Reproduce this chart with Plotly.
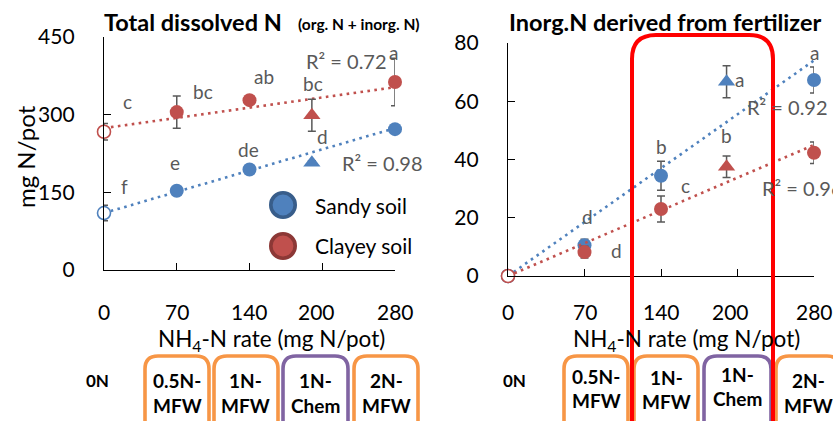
import plotly.graph_objects as go

W, H = 833, 421

# ---------------- data ----------------
mfw_rates = [70, 140, 280]          # MFW treatments
zero_rate = [0]                     # 0N control
chem_rate = [200]                   # 1N-Chem
trend_x = [0, 280]

# Left panel: total dissolved N (mg N/pot)
tdn_sandy_0, tdn_sandy_0_err = [110], [15]
tdn_sandy, tdn_sandy_err = [153, 194, 272], [3, 3, 4]
tdn_sandy_chem, tdn_sandy_chem_err = [207], [4]
tdn_clay_0, tdn_clay_0_err = [267], [16]
tdn_clay, tdn_clay_err = [305, 328, 363], [31, 5, 46]
tdn_clay_chem, tdn_clay_chem_err = [299], [31]
tdn_trend_sandy = [110, 274]
tdn_trend_clay = [274, 353]

# Right panel: inorganic N derived from fertilizer (mg N/pot)
fert_sandy_0, fert_sandy_0_err = [0], [0]
fert_sandy, fert_sandy_err = [10.6, 34.4, 67.3], [2, 5, 4.5]
fert_sandy_chem, fert_sandy_chem_err = [66.7], [5.5]
fert_clay_0, fert_clay_0_err = [0], [0]
fert_clay, fert_clay_err = [8.2, 23.0, 42.3], [2, 4.5, 3.7]
fert_clay_chem, fert_clay_chem_err = [37.5], [3.7]
fert_trend_sandy = [0, 74]
fert_trend_clay = [0, 45]

x_tick_pos = [0, 70, 140, 204, 280]
x_tick_text = ["0", "70", "140", "200", "280"]
left_y_ticks = [0, 150, 300, 450]
right_y_ticks = [0, 20, 40, 60, 80]

# letters of significance
left_letters_x = [23, 95, 154, 201, 279, 302, 210, 139, 68, 20]
left_letters_y = [326, 344, 373, 361, 421, 288, 257, 232, 207, 162]
left_letters = ["c", "bc", "ab", "bc", "a", "c", "d", "de", "e", "f"]
right_letters_x = [280, 212, 293, 140, 200, 162, 73, 99]
right_letters_y = [76.9, 67.3, 52.5, 44.6, 48.4, 31.2, 20.3, 8.9]
right_letters = ["a", "a", "b", "b", "b", "c", "d", "d"]
r2_left = ["R² = 0.72", "R² = 0.98"]
r2_right = ["R² = 0.92", "R² = 0.96"]

treat_0 = "0N"
box_line1 = ["0.5N-", "1N-", "1N-", "2N-"]
box_line2 = ["MFW", "MFW", "Chem", "MFW"]

# ---------------- style ----------------
BLUE, RED = "#4F81BD", "#C0504D"
BLUE_D, RED_D = "#385D8A", "#8C3836"
GRAY = "#595959"
ORANGE, PURPLE = "#F79646", "#8064A2"
FONT = "Lato"


def px(x):
    return x / W


def py(y):
    return 1 - y / H


fig = go.Figure()


def err(arr):
    return dict(type="data", array=arr, color=GRAY, thickness=1.5, width=4)


def add_series(xa, ya, color, t_y, z_y, z_e, m_y, m_e, c_y, c_e):
    fig.add_trace(go.Scatter(x=trend_x, y=t_y, mode="lines", xaxis=xa, yaxis=ya,
                             line=dict(color=color, width=2.6, dash="2.6px,4.4px"),
                             hoverinfo="skip", showlegend=False))
    fig.add_trace(go.Scatter(x=zero_rate, y=z_y, mode="markers", xaxis=xa, yaxis=ya,
                             marker=dict(symbol="circle", size=13, color="white",
                                         line=dict(color=color, width=1.6)),
                             error_y=err(z_e), cliponaxis=False, showlegend=False))
    fig.add_trace(go.Scatter(x=mfw_rates, y=m_y, mode="markers", xaxis=xa, yaxis=ya,
                             marker=dict(symbol="circle", size=14, color=color,
                                         line=dict(width=0)),
                             error_y=err(m_e), cliponaxis=False, showlegend=False))
    fig.add_trace(go.Scatter(x=chem_rate, y=c_y, mode="markers", xaxis=xa, yaxis=ya,
                             marker=dict(symbol="triangle-up", size=15, color=color,
                                         line=dict(width=0)),
                             error_y=err(c_e), cliponaxis=False, showlegend=False))


add_series("x", "y", BLUE, tdn_trend_sandy, tdn_sandy_0, tdn_sandy_0_err,
           tdn_sandy, tdn_sandy_err, tdn_sandy_chem, tdn_sandy_chem_err)
add_series("x", "y", RED, tdn_trend_clay, tdn_clay_0, tdn_clay_0_err,
           tdn_clay, tdn_clay_err, tdn_clay_chem, tdn_clay_chem_err)
add_series("x2", "y2", BLUE, fert_trend_sandy, fert_sandy_0, fert_sandy_0_err,
           fert_sandy, fert_sandy_err, fert_sandy_chem, fert_sandy_chem_err)
add_series("x2", "y2", RED, fert_trend_clay, fert_clay_0, fert_clay_0_err,
           fert_clay, fert_clay_err, fert_clay_chem, fert_clay_chem_err)

axis_common = dict(showline=True, linecolor="#000000", linewidth=1.3, showgrid=False,
                   zeroline=False, ticks="inside", ticklen=7, tickcolor="#000000",
                   tickwidth=1.3, automargin=False,
                   tickfont=dict(family=FONT, size=21, color="#000000"))

fig.update_layout(
    width=W, height=H, margin=dict(l=0, r=0, t=0, b=0, pad=0, autoexpand=False),
    paper_bgcolor="white", plot_bgcolor="white", showlegend=False,
    font=dict(family=FONT),
    xaxis=dict(domain=[px(104), px(395)], range=[0, 280], anchor="y",
               tickvals=[0, 70, 140, 210, 280], showticklabels=False, **axis_common),
    yaxis=dict(domain=[py(270), py(37)], range=[0, 450], anchor="x",
               tickvals=left_y_ticks, ticklabelstandoff=24, **axis_common),
    xaxis2=dict(domain=[px(508), px(814)], range=[0, 280], anchor="y2",
                tickvals=[0, 70, 140, 210, 280], showticklabels=False, **axis_common),
    yaxis2=dict(domain=[py(276), py(43)], range=[0, 80], anchor="x2",
                tickvals=right_y_ticks, ticklabelstandoff=24, **axis_common),
)

ann = []


def A(x, y, text, font, xref="paper", yref="paper", xanchor="center", **kw):
    ann.append(dict(x=x, y=y, xref=xref, yref=yref, text=text, showarrow=False,
                    xanchor=xanchor, yanchor="middle", font=font, **kw))


lf = dict(family=FONT, size=19, color=GRAY)
rf = dict(family=FONT, size=20, color=GRAY)
for x, y, t in zip(left_letters_x, left_letters_y, left_letters):
    A(x, y, t, lf, "x", "y")
for x, y, t in zip(right_letters_x, right_letters_y, right_letters):
    A(x, y, t, lf, "x2", "y2")
A(233, 404, r2_left[0], rf, "x", "y")
A(268, 207, r2_left[1], rf, "x", "y")
A(256, 58, r2_right[0], rf, "x2", "y2")
A(230.6, 30.2, r2_right[1], rf, "x2", "y2", xanchor="left")

tf = dict(family=FONT, size=21, color="#000000")
for xa in ("x", "x2"):
    for x, t in zip(x_tick_pos, x_tick_text):
        A(x, py(311), t, tf, xa, "paper")
xf = dict(family=FONT, size=22.5, color="#000000")
xt = "NH<sub>4</sub>-N rate (mg N/pot)"
A(px(271), py(340), xt, xf)
A(px(686), py(340), xt, xf)
A(px(25), py(157), "mg N/pot", dict(family=FONT, size=24, color="#000000"), textangle=-90)
A(px(102), py(22), "<b>Total dissolved N</b>", dict(family=FONT, size=23.5, color="#000000"),
  xanchor="left")
A(px(296), py(24), "<b>(org. N + inorg. N)</b>", dict(family=FONT, size=15.5, color="#000000"),
  xanchor="left")
A(px(507), py(22), "<b>Inorg.N derived from fertilizer</b>",
  dict(family=FONT, size=23.5, color="#000000"), xanchor="left")
A(px(313), py(205), "Sandy soil", tf, xanchor="left")
A(px(313), py(246), "Clayey soil", tf, xanchor="left")

shapes = []


def rbox(x0, y0, x1, y1, r, color, width):
    p = (f"M {px(x0 + r)},{py(y0)} L {px(x1 - r)},{py(y0)} Q {px(x1)},{py(y0)} {px(x1)},{py(y0 + r)} "
         f"L {px(x1)},{py(y1 - r)} Q {px(x1)},{py(y1)} {px(x1 - r)},{py(y1)} "
         f"L {px(x0 + r)},{py(y1)} Q {px(x0)},{py(y1)} {px(x0)},{py(y1 - r)} "
         f"L {px(x0)},{py(y0 + r)} Q {px(x0)},{py(y0)} {px(x0 + r)},{py(y0)} Z")
    shapes.append(dict(type="path", path=p, xref="paper", yref="paper",
                       line=dict(color=color, width=width), layer="above"))


left_boxes = [(145, 209), (214, 278), (283, 348), (354, 418)]
right_boxes = [(564, 628), (634, 698), (704, 771), (776, 840)]
box_cols = [ORANGE, ORANGE, PURPLE, ORANGE]
for (x0, x1), c in zip(left_boxes, box_cols):
    rbox(x0, 356, x1, 440, 13, c, 3.6)
for (x0, x1), c in zip(right_boxes, box_cols):
    rbox(x0, 356, x1, 440, 13, c, 3.6)

bf = dict(family=FONT, size=19, color="#000000")
A(px(97), py(380), f"<b>{treat_0}</b>", dict(family=FONT, size=17, color="#000000"))
A(px(514), py(380), f"<b>{treat_0}</b>", dict(family=FONT, size=17, color="#000000"))
for (x0, x1), t1, t2 in zip(left_boxes, box_line1, box_line2):
    xc = (x0 + x1) / 2
    A(px(xc), py(380), f"<b>{t1}</b>", bf)
    A(px(xc), py(405), f"<b>{t2}</b>", bf)
right_l1_y = [376, 377, 374, 380]
right_l2_y = [400, 401, 398, 405]
for (x0, x1), t1, t2, y1, y2 in zip(right_boxes, box_line1, box_line2, right_l1_y, right_l2_y):
    xc = (x0 + x1) / 2
    A(px(xc), py(y1), f"<b>{t1}</b>", bf)
    A(px(xc), py(y2), f"<b>{t2}</b>", bf)

for cy, fc, lc in ((205, BLUE, BLUE_D), (246, RED, RED_D)):
    shapes.append(dict(type="circle", xref="paper", yref="paper",
                       x0=px(283 - 12.2), x1=px(283 + 12.2), y0=py(cy + 12.2), y1=py(cy - 12.2),
                       fillcolor=fc, line=dict(color=lc, width=3.6)))

rbox(632, 35, 773, 450, 24, "#FF0000", 4)

fig.update_layout(annotations=ann, shapes=shapes)
fig.write_html("out.html", config={"displayModeBar": False},
               post_script="document.body.style.margin='0';")
